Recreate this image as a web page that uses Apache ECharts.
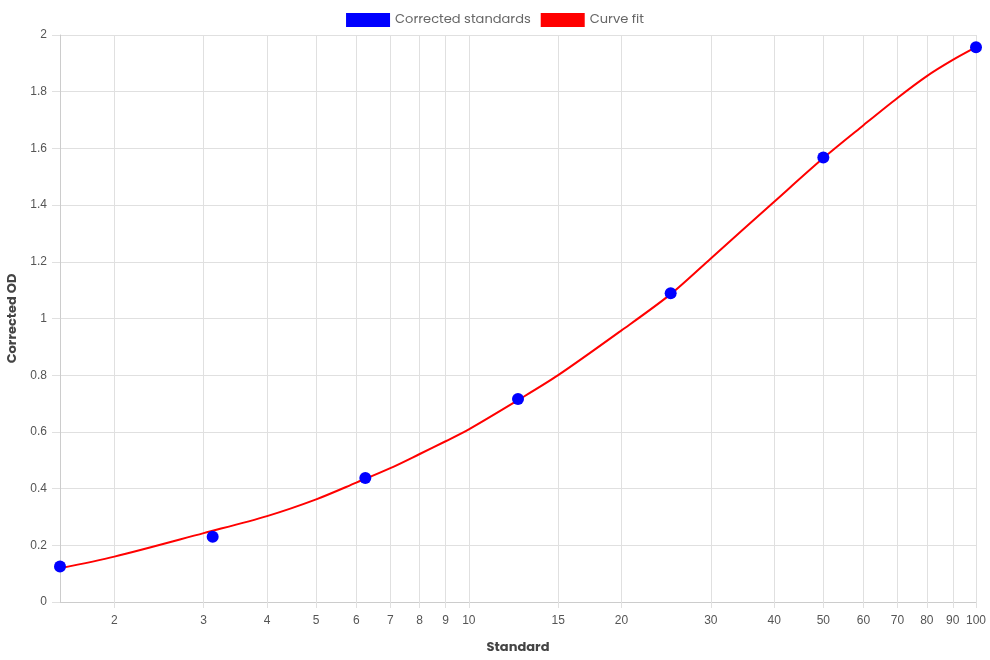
<!DOCTYPE html>
<html>
<head>
<meta charset="utf-8">
<title>Standard curve</title>
<script src="https://cdn.jsdelivr.net/npm/echarts@6/dist/echarts.min.js"></script>
<style>
  html, body { margin: 0; padding: 0; background: #fff; }
  #main { width: 990px; height: 660px; }
</style>
</head>
<body>
<div id="main"></div>
<script>
// measured standards
var stdX = [1.5625, 3.125, 6.25, 12.5, 25, 50, 100];
var stdOD = [0.125, 0.230, 0.437, 0.716, 1.089, 1.568, 1.957];

// fitted curve
var fitX = [1.5625, 2, 3, 4, 5, 6, 7, 8, 9, 10, 12.5, 15, 20, 25, 30, 40, 50, 60, 70, 80, 90, 100];
var fitOD = [0.119, 0.160, 0.243, 0.303, 0.362, 0.421, 0.472, 0.522, 0.567, 0.609, 0.712, 0.800, 0.958, 1.086, 1.212, 1.412, 1.566, 1.682, 1.778, 1.855, 1.912, 1.957];

// tick labels on the log axis
var xTicks = [2, 3, 4, 5, 6, 7, 8, 9, 10, 15, 20, 30, 40, 50, 60, 70, 80, 90, 100];

var titleFont = "Poppins, 'Open Sans', sans-serif";
var tickFont = "'Liberation Sans', Arial, sans-serif";
var gridColor = '#e0e0e0';

function pairs(xs, ys) {
	var out = [];
	for (var i = 0; i < xs.length; i++) {
		out.push([xs[i], ys[i]]);
	}
	return out;
}

var myChart = echarts.init(document.getElementById('main'));
var option = {
	animation: false,
	legend: {
		top: 8,
		left: 'center',
		icon: 'rect',
		itemWidth: 44,
		itemHeight: 14,
		itemGap: 10,
		textStyle: { fontFamily: titleFont, fontSize: 13, color: '#666' },
		data: ['Corrected standards', 'Curve fit']
	},
	grid: {
		left: 60,
		right: 14,
		top: 35,
		bottom: 58,
		outerBoundsMode: 'none',
		containLabel: false
	},
	xAxis: {
		type: 'log',
		logBase: 10,
		min: 1.5625,
		max: 100,
		name: 'Standard',
		nameLocation: 'middle',
		nameGap: 39,
		nameTextStyle: { fontFamily: titleFont, fontSize: 13, fontWeight: 'bold', color: '#444' },
		axisLine: { show: true, lineStyle: { color: '#ccc' } },
		axisTick: { show: true, length: 6, customValues: xTicks, lineStyle: { color: gridColor } },
		axisLabel: {
			customValues: xTicks,
			margin: 13,
			fontFamily: tickFont,
			fontSize: 12,
			color: '#555',
			hideOverlap: false
		},
		splitLine: { show: true, lineStyle: { color: gridColor } }
	},
	yAxis: {
		type: 'value',
		min: 0,
		max: 2,
		interval: 0.2,
		name: 'Corrected OD',
		nameLocation: 'middle',
		nameGap: 41,
		nameTextStyle: { fontFamily: titleFont, fontSize: 13, fontWeight: 'bold', color: '#444' },
		axisLine: { show: true, lineStyle: { color: '#ccc' } },
		axisTick: { show: true, length: 8, lineStyle: { color: gridColor } },
		axisLabel: {
			margin: 13,
			fontFamily: tickFont,
			fontSize: 12,
			color: '#555'
		},
		splitLine: { show: true, lineStyle: { color: gridColor } }
	},
	series: [{
		name: 'Corrected standards',
		type: 'scatter',
		symbol: 'circle',
		symbolSize: 12,
		itemStyle: { color: '#0000ff', opacity: 1 },
		z: 3,
		data: pairs(stdX, stdOD)
	}, {
		name: 'Curve fit',
		type: 'line',
		smooth: 0.3,
		showSymbol: false,
		symbol: 'none',
		itemStyle: { color: '#ff0000' },
		lineStyle: { color: '#ff0000', width: 2 },
		z: 2,
		data: pairs(fitX, fitOD)
	}]
};
myChart.setOption(option);
</script>
</body>
</html>
